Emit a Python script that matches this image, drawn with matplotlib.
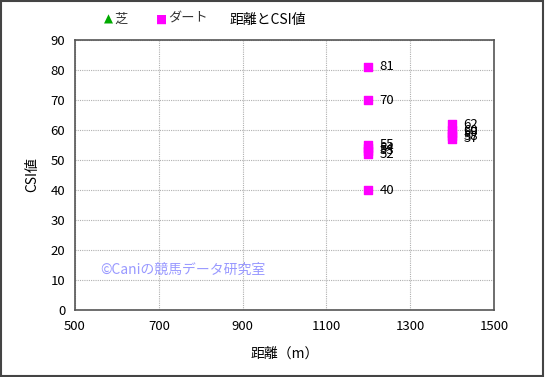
import matplotlib.pyplot as plt
from matplotlib.patches import Rectangle

plt.rcParams['font.family'] = ['Noto Sans CJK JP', 'DejaVu Sans']

# 芝 (turf) has no points in this chart
turf_dist = []
turf_csi = []

dirt_dist = [1200, 1200, 1200, 1200, 1200, 1200, 1200, 1400, 1400, 1400, 1400, 1400]
dirt_csi = [81, 70, 55, 54, 53, 52, 40, 62, 60, 59, 58, 57]

x_ticks = [500, 700, 900, 1100, 1300, 1500]
y_ticks = [0, 10, 20, 30, 40, 50, 60, 70, 80, 90]

fig = plt.figure(figsize=(5.45, 3.77), dpi=100)
ax = fig.add_axes([75 / 545, 1 - 310 / 377, 419 / 545, 270 / 377])

ax.scatter(turf_dist, turf_csi, marker='^', color='#00cc00', s=28)
ax.scatter(dirt_dist, dirt_csi, marker='s', color='#ff00ff', s=28, zorder=3)
for d, v in zip(dirt_dist, dirt_csi):
    ax.annotate(str(v), (d, v), xytext=(8, 0), textcoords='offset points',
                fontsize=9.5, va='center', ha='left', zorder=4)

ax.set_xlim(500, 1500)
ax.set_ylim(0, 90)
ax.set_xticks(x_ticks)
ax.set_yticks(y_ticks)
ax.tick_params(labelsize=9.5, length=0, pad=7)
ax.grid(True, color='#b0b0b0', linestyle=(0, (1, 1)), linewidth=0.8)
ax.set_axisbelow(True)
for s in ax.spines.values():
    s.set_color('#555555')
    s.set_linewidth(1.2)

ax.set_xlabel('距離（m）', fontsize=10, labelpad=10)
ax.set_ylabel('CSI値', fontsize=10, labelpad=8)

ax.text(0.06, 13.3, '©Caniの競馬データ研究室', transform=ax.get_yaxis_transform(),
        color='#9999ff', fontsize=10, va='center', ha='left')

# legend and title across the top
fig.text(108 / 545, 1 - 19 / 377, '▲', color='#00aa00', fontsize=8.5, va='center', ha='center',
         family=['DejaVu Sans'])
fig.text(114 / 545, 1 - 19 / 377, '芝', fontsize=9.5, va='center', ha='left', color='#333333')
fig.text(162 / 545, 1 - 19 / 377, '■', color='#ff00ff', fontsize=8.5, va='center', ha='center',
         family=['DejaVu Sans'])
fig.text(168 / 545, 1 - 19 / 377, 'ダート', fontsize=9.5, va='center', ha='left', color='#333333')
fig.text(268 / 545, 1 - 20 / 377, '距離とCSI値', fontsize=10, va='center', ha='center')

fig.patches.append(Rectangle((0.002, 0.003), 0.995, 0.994, transform=fig.transFigure,
                             fill=False, edgecolor='#444444', linewidth=1.5))

fig.savefig('out.png', dpi=100)
